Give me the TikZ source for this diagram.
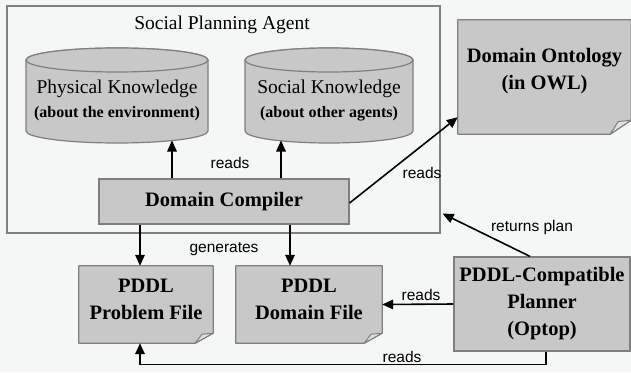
\documentclass[tikz,border=0pt]{standalone}
\usepackage{fontspec}
\setmainfont{Liberation Serif}
\setsansfont{Liberation Sans}
\usetikzlibrary{arrows.meta,calc}
\pgfdeclarelayer{background}
\pgfsetlayers{background,main}

\definecolor{bgc}{HTML}{F5F6F6}
\definecolor{boxfill}{HTML}{C8C8C8}
\definecolor{boxline}{HTML}{7F7F7F}
\definecolor{foldfill}{HTML}{E0E0E0}

\tikzset{
  box/.style={draw=boxline, fill=boxfill, line width=1.2pt, inner sep=0pt},
  docbox/.style={inner sep=0pt},
  lbl/.style={font=\sffamily\fontsize{15.5}{15.5}\selectfont, inner sep=1pt},
  conn/.style={line width=1.6pt, -{Triangle[length=11pt,width=9.5pt]}},
  big/.style={font=\bfseries\fontsize{20.5}{27}\selectfont, align=center, inner sep=0pt},
  cyltitle/.style={font=\fontsize{19.5}{19.5}\selectfont, inner sep=0pt},
  cylsub/.style={font=\bfseries\fontsize{16}{16}\selectfont, inner sep=0pt},
}

% document outline with a folded bottom-right corner
\newcommand\docshape[3]{%
  \filldraw[fill=boxfill, draw=boxline, line width=1.2pt, line join=round]
    (#1.north west) -- (#1.north east) -- ($(#1.south east)+(0,-#3)$)
    -- ($(#1.south east)+(-#2,0)$) -- (#1.south west) -- cycle;
  \filldraw[fill=foldfill, draw=boxline, line width=1pt, line join=round]
    ($(#1.south east)+(-#2,0)$) -- ($(#1.south east)+(-0.62*#2,-0.9*#3)$)
    -- ($(#1.south east)+(0,-#3)$) -- cycle;
}

% database cylinder: left x, right x, top-ellipse centre y, bottom-ellipse centre y
\newcommand\cylshape[4]{%
  \pgfmathsetmacro\rx{(#2-#1)/2}
  \filldraw[fill=boxfill, draw=boxline, line width=1.2pt]
    (#1,#3) -- (#1,#4) arc[start angle=180, end angle=360, x radius=\rx pt, y radius=12pt]
    -- (#2,#3) arc[start angle=0, end angle=180, x radius=\rx pt, y radius=12pt] -- cycle;
  \filldraw[fill=boxfill, draw=boxline, line width=1.2pt]
    ({(#1+#2)/2},#3) ellipse[x radius=\rx pt, y radius=12pt];
}

\begin{document}
\begin{tikzpicture}[x=1pt, y=-1pt]
\useasboundingbox (0,0) rectangle (631,372);
\begin{pgfonlayer}{background}
  \fill[bgc] (0,0) rectangle (631,372);
\end{pgfonlayer}

% agent frame
\node[draw=boxline, fill=bgc, line width=1.2pt, inner sep=0pt,
      minimum width=433pt, minimum height=227pt] (agent) at (223.5,119.5) {};
\node[font=\fontsize{19.5}{19.5}\selectfont, inner sep=0pt] (agtitle) at (222,25) {Social Planning Agent};

% knowledge stores
\cylshape{26}{208}{60}{131}
\cylshape{245}{413}{60}{131}
\node[inner sep=0pt, minimum width=182pt, minimum height=95pt] (phys) at (117,95.5) {};
\node[inner sep=0pt, minimum width=168pt, minimum height=95pt] (soc) at (329,95.5) {};
\node[cyltitle] (physA) at (117,89) {Physical Knowledge};
\node[cylsub] (physB) at (117,114) {(about the environment)};
\node[cyltitle] (socA) at (329,89) {Social Knowledge};
\node[cylsub] (socB) at (329,114) {(about other agents)};
\coordinate (pk) at (172,140.5);
\coordinate (sk) at (281,140.5);

% compiler and planner
\node[box, big, minimum width=250pt, minimum height=45pt] (dc) at (224,201.5) {Domain Compiler};
\node[box, big, minimum width=176pt, minimum height=94pt] (plan) at (542,304)
  {PDDL-Compatible\\Planner\\(Optop)};

% documents
\node[docbox, minimum width=173pt, minimum height=114pt] (onto) at (544.5,77) {};
\node[docbox, minimum width=134pt, minimum height=77pt] (pfile) at (146,304.5) {};
\node[docbox, minimum width=146pt, minimum height=77pt] (dfile) at (309,304.5) {};
\begin{pgfonlayer}{background}
  \docshape{onto}{21}{14}
  \docshape{pfile}{18}{10}
  \docshape{dfile}{18}{10}
\end{pgfonlayer}
\node[big] (ontotxt) at (544.5,71) {Domain Ontology\\(in OWL)};
\node[big] (pfiletxt) at (146,299.5) {PDDL\\Problem File};
\node[big] (dfiletxt) at (309,299.5) {PDDL\\Domain File};

% connectors
\draw[conn] (dc.north -| pk) -- (pk);
\draw[conn] (dc.north -| sk) -- (sk);
\node[lbl] (l1) at (230,163) {reads};

\coordinate (ontoin) at ($(onto.south west)+(0,-17)$);
\draw[conn] ($(dc.east)+(0,1.5)$) -- (ontoin);
\node[lbl] (l2) at (422,173) {reads};

\coordinate (pin) at ($(pfile.north)+(-6,0)$);
\coordinate (din) at ($(dfile.north)+(-19,0)$);
\draw[conn] (dc.south -| pin) -- (pin);
\draw[conn] (dc.south -| din) -- (din);
\node[lbl] (l3) at (224,249) {generates};

\draw[conn] (plan.west) -- (dfile.east);
\node[lbl] (l4) at (421,295) {reads};

\coordinate (pbot) at ($(pfile.south)+(-6,0)$);
\draw[conn] ($(plan.south)+(4,0)$) -- ++(0,13) -| (pbot);
\node[lbl] (l5) at (402,357) {reads};

\coordinate (agentin) at ($(agent.south east)+(2,-20)$);
\draw[conn] ($(plan.north)+(-12,0)$) -- (agentin);
\node[lbl] (l6) at (532,227) {returns plan};
\end{tikzpicture}
\end{document}
